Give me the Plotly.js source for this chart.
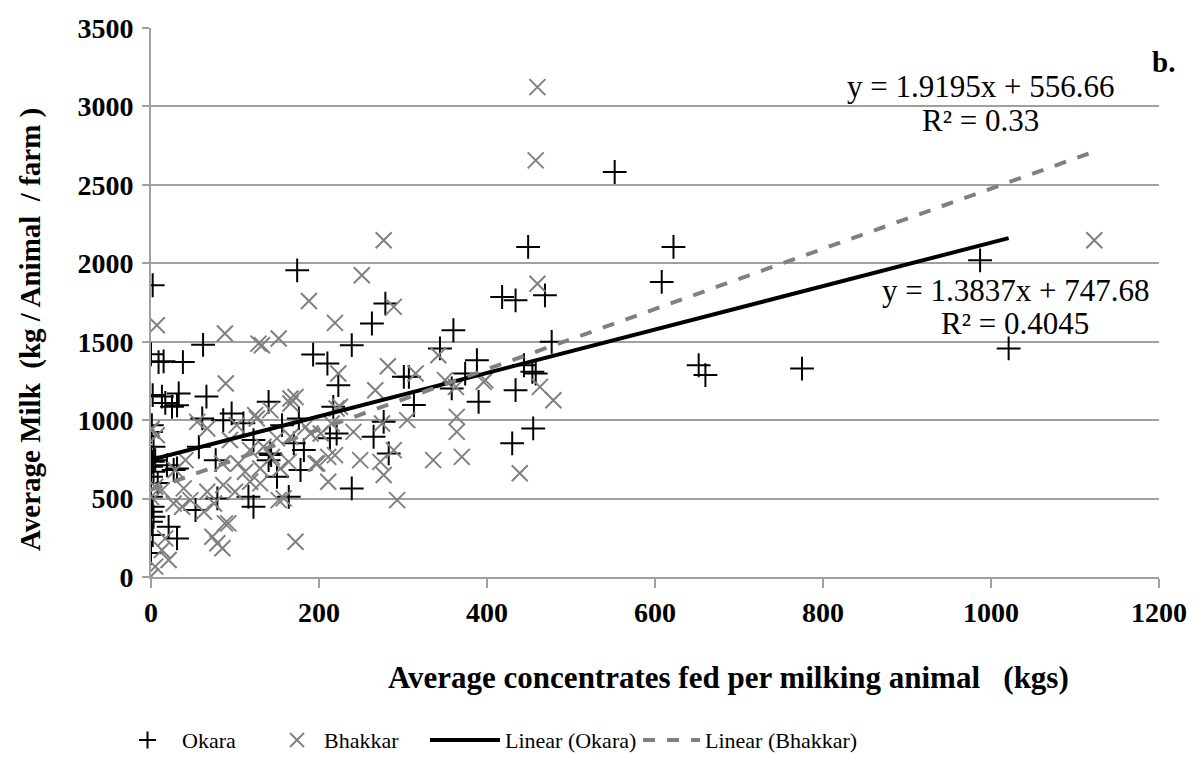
<!DOCTYPE html>
<html>
<head>
<meta charset="utf-8">
<script src="https://cdn.plot.ly/plotly-3.0.1.min.js"></script>
<style>html,body{margin:0;padding:0;background:#fff;}#chart{width:1194px;height:768px;}</style>
</head>
<body>
<div id="chart"></div>
<script>
// Okara (+) observations: concentrates fed (kg) vs average milk (kg/animal/farm)
const okaraX = [2,0,9,15,38,62,174,
  2,13,17,25,33,31,66,
  61,96,86,110,140,1,0,3,
  57,77,122,143,150,156,176,170,182,178,140,142,
  193,210,223,239,263,279,217,221,213,164,116,122,
  360,344,301,307,388,374,358,390,313,277,265,283,239,
  552,449,622,608,418,434,469,477,444,454,458,652,660,434,455,430,
  987,1021,775,
  0,2,0,3,0,0,2,0,3,0,2,0,
  19,27,31,79,53,21,31,5,8];
const okaraY = [1860,1420,1370,1375,1370,1480,1955,
  1160,1150,1110,1085,1170,1095,1150,
  1011,1043,1000,980,1117,968,925,830,
  830,745,873,777,639,968,1011,852,809,682,745,788,
  1418,1361,1223,1478,1616,1743,1085,915,884,511,511,448,
  1573,1457,1276,1276,1382,1297,1202,1117,1096,989,894,788,565,
  2582,2104,2104,1881,1785,1764,1796,1499,1350,1308,1297,1350,1287,1191,947,852,
  2019,1457,1329,
  766,734,703,671,639,511,448,416,384,352,267,153,
  713,682,692,501,427,320,246,745,600];

// Bhakkar (x) observations
const bhakkarX = [7,88,128,132,152,89,188,219,251,277,289,223,282,267,172,166,342,315,350,363,396,225,305,364,364,275,241,215,190,211,249,273,289,336,370,277,211,293,198,
  460,458,460,398,463,479,439,1123,
  124,166,221,184,202,166,150,219,196,164,154,144,130,112,118,130,158,152,172,134,118,142,126,
  1,7,55,67,94,102,104,85,41,29,5,0,13,39,47,37,27,67,86,75,63,88,73,79,85,17,21,5,0,13,100,92,0];
const bhakkarY = [1605,1552,1488,1478,1520,1234,1760,1620,1924,2147,1722,1297,1344,1191,1148,1138,1414,1297,1255,1212,1244,1085,1000,1021,925,979,925,979,915,766,745,734,809,745,766,650,607,490,724,
  3123,2656,1870,1255,1212,1127,661,2147,
  1032,1106,1074,957,915,894,884,777,724,734,692,766,692,671,607,597,501,490,225,830,809,1064,1011,
  947,904,989,947,873,968,724,724,745,682,575,511,554,565,490,448,469,543,586,469,416,342,257,215,183,246,108,66,5,172,543,342,936];

// Trendline equations as printed on the chart: [slope, intercept], and x extents
const okaraFit = [1.3837, 747.68];
const bhakkarFit = [1.9195, 556.66];
const okaraFitX = [0, 1021];
const bhakkarFitX = [0, 1123];

const xTicks = [0,200,400,600,800,1000,1200];
const yTicks = [0,500,1000,1500,2000,2500,3000,3500];
const legendNames = ['Okara', 'Bhakkar', 'Linear (Okara)', 'Linear (Bhakkar)'];
const xTitle = 'Average concentrates fed per milking animal &nbsp; (kgs)';
const yTitle = 'Average Milk &nbsp;(kg / Animal &nbsp;/ farm )';

const serif = 'Liberation Serif, Times New Roman, serif';
const GRAY = '#808080';

const traces = [
  {x: okaraX, y: okaraY, name: legendNames[0], type: 'scatter', mode: 'markers',
   marker: {symbol: 'cross-thin-open', size: 17, color: '#000', line: {color: '#000', width: 2}}},
  {x: bhakkarX, y: bhakkarY, name: legendNames[1], type: 'scatter', mode: 'markers',
   marker: {symbol: 'x-thin-open', size: 16, color: GRAY, line: {color: GRAY, width: 2}}},
  {x: okaraFitX, y: okaraFitX.map(v => okaraFit[0]*v + okaraFit[1]), name: legendNames[2],
   type: 'scatter', mode: 'lines', line: {color: '#000', width: 4}},
  {x: bhakkarFitX, y: bhakkarFitX.map(v => bhakkarFit[0]*v + bhakkarFit[1]), name: legendNames[3],
   type: 'scatter', mode: 'lines', line: {color: GRAY, width: 4, dash: 'dash'}}
];

// plot-area geometry and helpers to place paper-referenced items by pixel
const W = 1008, H = 549, L = 151, T = 28;
const px = v => (v - L) / W;
const py = v => (T + H - v) / H;
const legY = 740;
const seg = (x0, y0, x1, y1, color, width, dash) => ({type: 'line', xref: 'paper', yref: 'paper',
  x0: px(x0), x1: px(x1), y0: py(y0), y1: py(y1), line: {color: color, width: width, dash: dash || 'solid'}});
const shapes = [
  seg(139, legY, 156, legY, '#000', 2),
  seg(147.5, legY - 8.5, 147.5, legY + 8.5, '#000', 2),
  seg(290, legY - 7, 304, legY + 7, GRAY, 2),
  seg(290, legY + 7, 304, legY - 7, GRAY, 2),
  seg(430, legY, 500, legY, '#000', 4),
  seg(643, legY, 700, legY, GRAY, 4, 'dash')
];
const txt = (text, x, y, size, anchor, extra) => Object.assign({xref: 'paper', yref: 'paper',
  x: px(x), y: py(y), text: text, showarrow: false, xanchor: anchor || 'center', yanchor: 'middle',
  font: {family: serif, size: size, color: '#000'}}, extra || {});

const layout = {
  width: 1194, height: 768,
  paper_bgcolor: '#fff', plot_bgcolor: '#fff',
  margin: {l: L, r: 1194 - L - W, t: T, b: 768 - T - H},
  font: {family: serif, size: 22, color: '#000'},
  showlegend: false,
  xaxis: {range: [0, 1200], tickvals: xTicks, ticktext: xTicks.map(String),
          showgrid: false, zeroline: false, showline: true, linecolor: '#a0a0a0', linewidth: 2,
          ticks: 'outside', ticklen: 9, tickwidth: 2, tickcolor: '#a0a0a0',
          tickfont: {family: serif, size: 28, color: '#000', weight: 'bold'}},
  yaxis: {range: [0, 3500], tickvals: yTicks, ticktext: yTicks.map(String),
          showgrid: true, gridcolor: '#a0a0a0', gridwidth: 2, zeroline: false,
          showline: true, linecolor: '#a0a0a0', linewidth: 2,
          ticks: 'outside', ticklen: 7, tickwidth: 2, tickcolor: '#a0a0a0', ticklabelstandoff: 3,
          tickfont: {family: serif, size: 28, color: '#000', weight: 'bold'}},
  shapes: shapes,
  annotations: [
    txt('<b>' + xTitle + '</b>', 728, 677, 31),
    txt('<b>' + yTitle + '</b>', 30, 330, 29, 'center', {textangle: -90}),
    txt('y = 1.9195x + 556.66', 980, 87, 31),
    txt('R² = 0.33', 980, 120, 31),
    txt('y = 1.3837x + 747.68', 1015, 290, 31),
    txt('R² = 0.4045', 1015, 323, 31),
    txt('<b>b.</b>', 1150, 62, 29, 'left'),
    txt(legendNames[0], 180, legY, 22, 'left'),
    txt(legendNames[1], 322, legY, 22, 'left'),
    txt(legendNames[2], 503, legY, 22, 'left'),
    txt(legendNames[3], 703, legY, 22, 'left')
  ]
};

Plotly.newPlot('chart', traces, layout, {displayModeBar: false, staticPlot: true});
</script>
</body>
</html>
